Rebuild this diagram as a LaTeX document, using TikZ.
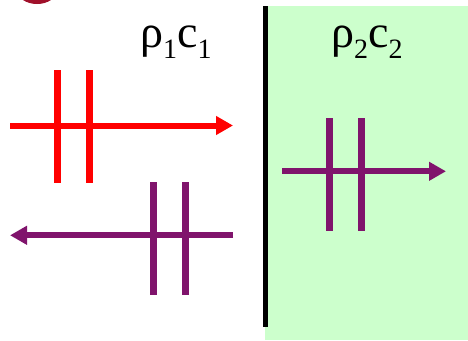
\documentclass[tikz,border=0pt]{standalone}
\usepackage{fontspec}
\setmainfont{Liberation Serif}
\usetikzlibrary{arrows.meta}
\definecolor{wred}{RGB}{255,0,0}
\definecolor{wpurple}{RGB}{128,20,108}
\definecolor{wgreen}{RGB}{204,255,204}
\definecolor{blobred}{RGB}{160,16,42}
\newcommand{\lbl}[2]{\fontsize{46}{46}\selectfont ρ\raisebox{-11pt}{\fontsize{28}{28}\selectfont #1}c\raisebox{-11pt}{\fontsize{28}{28}\selectfont #2}}
\tikzset{
  wave/.style={line width=6pt, -{Triangle[length=17pt,width=18pt]}},
  bar/.style={line width=7pt},
  lab/.style={inner sep=0pt, anchor=base west},
}
\begin{document}
\begin{tikzpicture}[x=1pt,y=-1pt]
\useasboundingbox (0,0) rectangle (468,340);
\clip (0,0) rectangle (468,340);
% medium 2 background
\fill[wgreen] (265,6) rectangle (468,340);
% blob
\fill[blobred] (37,-10) ellipse (20pt and 14pt);
% interface
\draw[line width=4.5pt] (265.5,6) -- (265.5,327);
% labels
\node[lab] (l1) at (140,47) {\lbl{1}{1}};
\node[lab] (l2) at (331,47) {\lbl{2}{2}};
% incident wave
\coordinate (a1) at (10,125.5);
\coordinate (a2) at (233,125.5);
\draw[wave, wred] (a1) -- (a2);
\draw[bar, wred] (57.5,70) -- (57.5,183);
\draw[bar, wred] (89.5,70) -- (89.5,183);
% reflected wave
\coordinate (b1) at (233,235.3);
\coordinate (b2) at (10,235.3);
\draw[wave, wpurple] (b1) -- (b2);
\draw[bar, wpurple] (153.5,182) -- (153.5,295);
\draw[bar, wpurple] (185.5,182) -- (185.5,295);
% transmitted wave
\coordinate (c1) at (282,171.3);
\coordinate (c2) at (446,171.3);
\draw[wave, wpurple] (c1) -- (c2);
\draw[bar, wpurple] (329.5,118) -- (329.5,231);
\draw[bar, wpurple] (361.5,118) -- (361.5,231);
\end{tikzpicture}
\end{document}
